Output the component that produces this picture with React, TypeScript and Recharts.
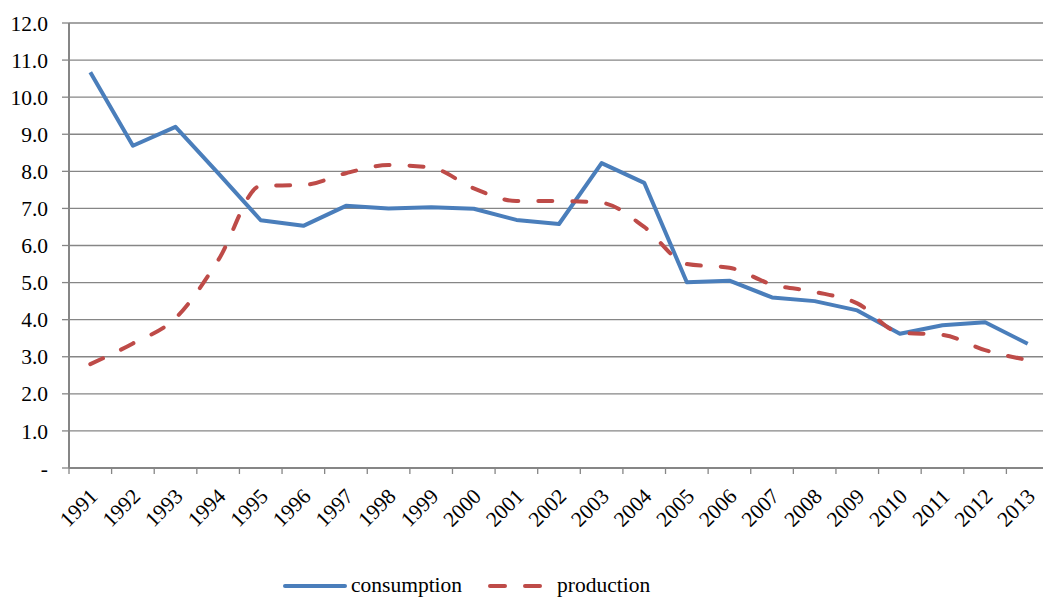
import { CartesianGrid, Legend, Line, LineChart, XAxis, YAxis } from 'recharts'

const YEARS = [
  '1991', '1992', '1993', '1994', '1995', '1996', '1997', '1998', '1999', '2000', '2001', '2002',
  '2003', '2004', '2005', '2006', '2007', '2008', '2009', '2010', '2011', '2012', '2013',
]

const CONSUMPTION = [
  10.67, 8.69, 9.2, 7.95, 6.68, 6.53, 7.07, 7.0, 7.03, 6.99, 6.69, 6.58,
  8.22, 7.69, 5.01, 5.05, 4.6, 4.5, 4.25, 3.62, 3.85, 3.93, 3.35,
]

const PRODUCTION = [
  2.8, 3.36, 4.04, 5.6, 7.61, 7.63, 7.95, 8.17, 8.1, 7.54, 7.2, 7.2,
  7.15, 6.5, 5.5, 5.4, 4.95, 4.75, 4.44, 3.65, 3.59, 3.18, 2.91,
]

const Y_TICKS = [0, 1, 2, 3, 4, 5, 6, 7, 8, 9, 10, 11, 12]

const BLUE = '#4a7ebb'
const RED = '#be4b48'
const GRID = '#868686'
const FONT = "'Liberation Serif', 'DejaVu Serif', serif"
const FONT_SIZE = 21.5
const DASH = '14 20'

const data = YEARS.map((year, i) => ({
  idx: i,
  year,
  consumption: CONSUMPTION[i],
  production: PRODUCTION[i],
}))

// tick marks sit between categories, like the original spreadsheet chart
const boundaryTicks = YEARS.map((_, i) => i - 0.5).concat(YEARS.length - 0.5)

function YearTick({ x, y, payload }: any) {
  return (
    <g transform={`translate(${x - 2},${y + 5})`}>
      <text
        transform="rotate(-45)"
        textAnchor="end"
        dy="0.7em"
        fill="#000"
        fontFamily={FONT}
        fontSize={FONT_SIZE}
      >
        {payload.value}
      </text>
    </g>
  )
}

function LegendContent() {
  return (
    <div style={{ display: 'flex', alignItems: 'center', fontFamily: FONT, fontSize: FONT_SIZE, color: '#000' }}>
      <svg width={64} height={10}>
        <line x1={2} y1={5} x2={62} y2={5} stroke={BLUE} strokeWidth={4} strokeLinecap="round" />
      </svg>
      <span style={{ marginLeft: 4 }}>consumption</span>
      <svg width={58} height={10} style={{ marginLeft: 26 }}>
        <line
          x1={2}
          y1={5}
          x2={56}
          y2={5}
          stroke={RED}
          strokeWidth={4}
          strokeLinecap="round"
          strokeDasharray="15 20"
        />
      </svg>
      <span style={{ marginLeft: 11 }}>production</span>
    </div>
  )
}

export default function App() {
  return (
    <div
      style={{
        position: 'fixed',
        left: 0,
        top: 0,
        width: 1043,
        height: 597,
        overflow: 'hidden',
        background: '#fff',
      }}
    >
      <LineChart
        width={1050}
        height={597}
        data={data}
        margin={{ top: 23, right: 1, bottom: 0, left: 0 }}
      >
        <CartesianGrid xAxisId="axisA" vertical={false} stroke={GRID} strokeWidth={1.3} />
        <XAxis
          xAxisId="axisB"
          dataKey="year"
          type="category"
          scale="band"
          height={99}
          axisLine={false}
          tickLine={false}
          interval={0}
          tick={<YearTick />}
        />
        <XAxis
          xAxisId="axisA"
          dataKey="idx"
          type="number"
          domain={[-0.5, YEARS.length - 0.5]}
          ticks={boundaryTicks}
          tickFormatter={() => ''}
          height={6}
          tickSize={6}
          axisLine={{ stroke: GRID, strokeWidth: 2 }}
          tickLine={{ stroke: GRID, strokeWidth: 1.3 }}
          allowDataOverflow
        />
        <YAxis
          domain={[0, 12]}
          ticks={Y_TICKS}
          width={69}
          tickSize={7}
          tickMargin={14}
          interval={0}
          axisLine={{ stroke: GRID, strokeWidth: 2 }}
          tickLine={{ stroke: GRID, strokeWidth: 1.3 }}
          tick={{ fill: '#000', fontFamily: FONT, fontSize: FONT_SIZE }}
          tickFormatter={(v: number) => (v === 0 ? '-' : v.toFixed(1))}
        />
        <Line
          xAxisId="axisA"
          type="linear"
          dataKey="consumption"
          stroke={BLUE}
          strokeWidth={4}
          strokeLinejoin="round"
          dot={false}
          activeDot={false}
          isAnimationActive={false}
        />
        <Line
          xAxisId="axisA"
          type="monotone"
          dataKey="production"
          stroke={RED}
          strokeWidth={4}
          strokeLinecap="round"
          strokeDasharray={DASH}
          dot={false}
          activeDot={false}
          isAnimationActive={false}
        />
        <Legend
          verticalAlign="bottom"
          content={<LegendContent />}
          wrapperStyle={{ left: 283, width: 420, height: 24, bottom: 0 }}
        />
      </LineChart>
    </div>
  )
}
